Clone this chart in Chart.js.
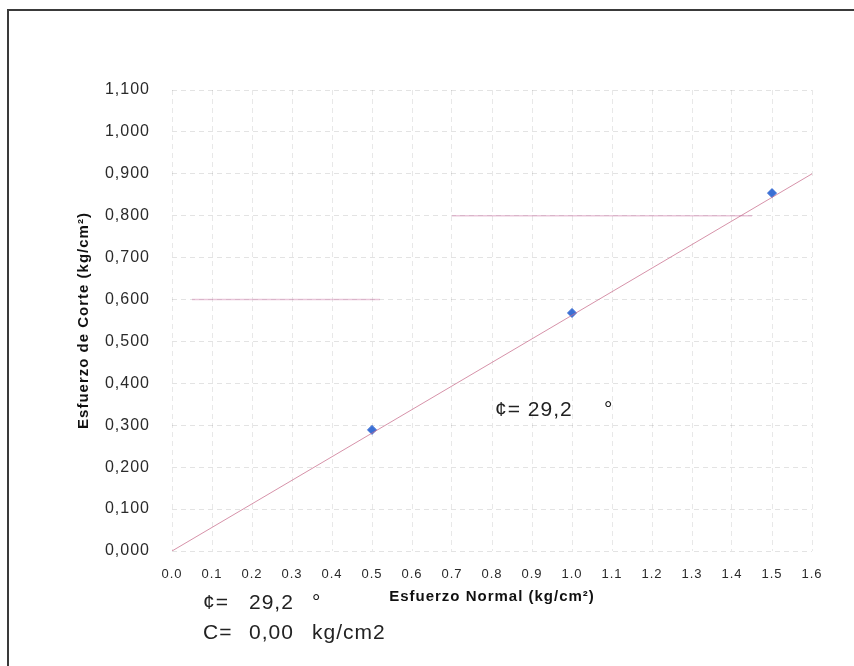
<!DOCTYPE html>
<html lang="es">

<head>
    <meta charset="UTF-8">
    <title>Ensayo de corte directo</title>
    <script src="https://cdn.jsdelivr.net/npm/chart.js"></script>
    <style>
        body { margin: 0; background: #fff; }
        .marco { position: relative; width: 854px; height: 666px; }
        .borde {
            position: absolute; top: 9px; left: 7px; right: 0; bottom: 0;
            border-top: 2px solid #3a3a3a; border-left: 2px solid #3a3a3a;
        }
        canvas { position: absolute; top: 0; left: 0; }
    </style>
</head>

<body>
    <div class="marco">
        <div class="borde"></div>
        <canvas id="grafico_corte"></canvas>
    </div>

<script>
    // ensayo: esfuerzo normal vs esfuerzo de corte
    var esfuerzoNormal = [0.5, 1.0, 1.5];
    var esfuerzoCorte = [0.289, 0.568, 0.854];

    // recta de resistencia (phi = 29.2, c = 0)
    var rectaX = [0.0, 1.6];
    var rectaY = [0.0, 0.9];

    // trazos rosados que aparecen en el original
    var trazo1X = [0.05, 0.52];
    var trazo1Y = [0.6, 0.6];
    var trazo2X = [0.70, 1.45];
    var trazo2Y = [0.8, 0.8];

    var xMin = 0.0, xMax = 1.6, yMin = 0.0, yMax = 1.1;

    function pares(xs, ys) {
        var lista = [];
        for (let i = 0; i < xs.length; i++) {
            lista.push({ x: xs[i], y: ys[i] });
        }
        return lista;
    }

    var fuente = "'Liberation Sans', Arial, sans-serif";

    // separacion de letras parecida al escaneo
    var espaciado = {
        id: 'espaciado',
        beforeUpdate(chart) { chart.ctx.letterSpacing = '1px'; },
        beforeDraw(chart) { chart.ctx.letterSpacing = '1px'; }
    };

    // textos de phi y cohesion
    var textos = {
        id: 'textos',
        afterDraw(chart) {
            const ctx = chart.ctx;
            const sx = chart.scales.x;
            const sy = chart.scales.y;
            ctx.save();
            ctx.letterSpacing = '1px';
            ctx.fillStyle = '#222';
            ctx.font = '21px ' + fuente;
            ctx.textAlign = 'left';
            ctx.textBaseline = 'middle';

            var px = sx.getPixelForValue(0.8075);
            var py = sy.getPixelForValue(0.336);
            ctx.fillText('¢= 29,2', px, py);
            ctx.fillText('°', sx.getPixelForValue(1.08), py);

            ctx.fillText('¢=', 203, 603);
            ctx.fillText('29,2', 249, 603);
            ctx.fillText('°', 312, 603);
            ctx.fillText('C=', 203, 633);
            ctx.fillText('0,00', 249, 633);
            ctx.fillText('kg/cm2', 312, 633);
            ctx.restore();
        }
    };

    var canvas = document.getElementById('grafico_corte');
    canvas.width = 854;
    canvas.height = 666;

    new Chart(canvas, {
        type: 'scatter',
        data: {
            datasets: [
                {
                    label: 'trazo 0.6',
                    data: pares(trazo1X, trazo1Y),
                    showLine: true,
                    borderColor: 'rgba(200, 110, 160, 0.4)',
                    borderWidth: 1.5,
                    pointRadius: 0
                },
                {
                    label: 'trazo 0.8',
                    data: pares(trazo2X, trazo2Y),
                    showLine: true,
                    borderColor: 'rgba(200, 110, 160, 0.4)',
                    borderWidth: 1.5,
                    pointRadius: 0
                },
                {
                    label: 'Recta',
                    data: pares(rectaX, rectaY),
                    showLine: true,
                    borderColor: 'rgba(200, 110, 140, 0.75)',
                    borderWidth: 1,
                    pointRadius: 0
                },
                {
                    label: 'Ensayo',
                    data: pares(esfuerzoNormal, esfuerzoCorte),
                    pointStyle: 'rectRot',
                    pointRadius: 4.5,
                    backgroundColor: '#3b6fd4',
                    borderColor: '#3b6fd4',
                    borderWidth: 1
                }
            ]
        },
        options: {
            responsive: false,
            animation: false,
            layout: {
                padding: { left: 70, right: 42, top: 90, bottom: 56 }
            },
            plugins: {
                legend: { display: false },
                tooltip: { enabled: false }
            },
            scales: {
                x: {
                    type: 'linear',
                    min: xMin,
                    max: xMax,
                    afterFit(scale) { scale.height = 59; },
                    border: { display: false, dash: [5, 4] },
                    grid: {
                        color: 'rgba(0, 0, 0, 0.09)',
                        drawTicks: false
                    },
                    ticks: {
                        stepSize: 0.1,
                        padding: 16,
                        color: '#2a2a2a',
                        font: { family: fuente, size: 13 },
                        callback: v => v.toFixed(1)
                    },
                    title: {
                        display: true,
                        text: 'Esfuerzo Normal (kg/cm²)',
                        color: '#111',
                        font: { family: fuente, size: 15, weight: 'bold' },
                        padding: { top: 0, bottom: 4 }
                    }
                },
                y: {
                    type: 'linear',
                    min: yMin,
                    max: yMax,
                    afterFit(scale) { scale.width = 102; },
                    border: { display: false, dash: [5, 4] },
                    grid: {
                        color: 'rgba(0, 0, 0, 0.11)',
                        drawTicks: false
                    },
                    ticks: {
                        stepSize: 0.1,
                        padding: 22,
                        color: '#2a2a2a',
                        font: { family: fuente, size: 16 },
                        callback: v => v.toFixed(3).replace('.', ',')
                    },
                    title: {
                        display: true,
                        text: 'Esfuerzo de Corte (kg/cm²)',
                        color: '#111',
                        font: { family: fuente, size: 15, weight: 'bold' },
                        padding: { top: 5, bottom: 0 }
                    }
                }
            }
        },
        plugins: [espaciado, textos]
    });
</script>
</body>

</html>
